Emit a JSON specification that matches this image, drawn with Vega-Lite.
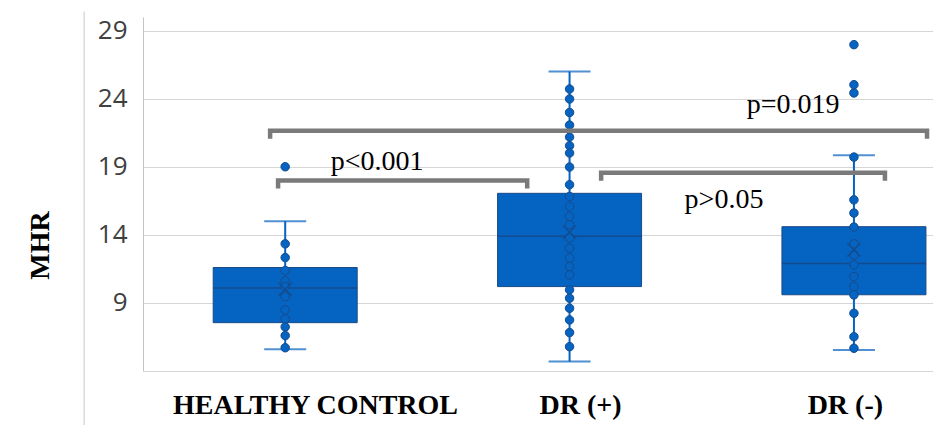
{
  "$schema": "https://vega.github.io/schema/vega-lite/v6.json",
  "width": 790,
  "height": 354,
  "autosize": {"type": "none"},
  "padding": {"left": 143, "top": 17, "right": 0, "bottom": 54},
  "background": "#ffffff",
  "config": {"view": {"stroke": null}},
  "datasets": {
    "boxes": [
      {"group": "HEALTHY CONTROL", "x": 1, "lo": 5.6, "q1": 7.55, "med": 10.1, "q3": 11.6, "hi": 15.0, "mean": 10.0},
      {"group": "DR (+)", "x": 2, "lo": 4.7, "q1": 10.2, "med": 13.9, "q3": 17.05, "hi": 26.0, "mean": 14.2},
      {"group": "DR (-)", "x": 3, "lo": 5.55, "q1": 9.6, "med": 11.9, "q3": 14.6, "hi": 19.85, "mean": 12.9}
    ],
    "points": [
      {"x": 1, "v": 19.0}, {"x": 1, "v": 13.34}, {"x": 1, "v": 12.33}, {"x": 1, "v": 11.38}, {"x": 1, "v": 10.62}, {"x": 1, "v": 10.2}, {"x": 1, "v": 9.46}, {"x": 1, "v": 8.49}, {"x": 1, "v": 7.82}, {"x": 1, "v": 7.24}, {"x": 1, "v": 6.6}, {"x": 1, "v": 5.71},
      {"x": 2, "v": 24.71}, {"x": 2, "v": 23.98}, {"x": 2, "v": 22.99}, {"x": 2, "v": 22.06}, {"x": 2, "v": 21.18}, {"x": 2, "v": 20.54}, {"x": 2, "v": 20.01}, {"x": 2, "v": 18.98}, {"x": 2, "v": 17.68}, {"x": 2, "v": 16.82}, {"x": 2, "v": 16.08}, {"x": 2, "v": 15.35}, {"x": 2, "v": 14.74}, {"x": 2, "v": 13.76}, {"x": 2, "v": 13.02}, {"x": 2, "v": 12.29}, {"x": 2, "v": 11.67}, {"x": 2, "v": 11.06}, {"x": 2, "v": 9.96}, {"x": 2, "v": 9.35}, {"x": 2, "v": 8.61}, {"x": 2, "v": 7.75}, {"x": 2, "v": 6.82}, {"x": 2, "v": 5.79},
      {"x": 3, "v": 27.97}, {"x": 3, "v": 25.03}, {"x": 3, "v": 24.42}, {"x": 3, "v": 19.71}, {"x": 3, "v": 16.57}, {"x": 3, "v": 15.6}, {"x": 3, "v": 14.57}, {"x": 3, "v": 13.34}, {"x": 3, "v": 12.53}, {"x": 3, "v": 11.79}, {"x": 3, "v": 10.93}, {"x": 3, "v": 10.2}, {"x": 3, "v": 9.59}, {"x": 3, "v": 8.24}, {"x": 3, "v": 6.52}, {"x": 3, "v": 5.67}
    ],
    "brackets": [
      {"b": "a", "s": 1, "x": 0.975, "y": 17.4}, {"b": "a", "s": 2, "x": 0.975, "y": 18.0}, {"b": "a", "s": 3, "x": 1.851, "y": 18.0}, {"b": "a", "s": 4, "x": 1.851, "y": 17.4},
      {"b": "b", "s": 1, "x": 2.111, "y": 17.97}, {"b": "b", "s": 2, "x": 2.111, "y": 18.56}, {"b": "b", "s": 3, "x": 3.109, "y": 18.56}, {"b": "b", "s": 4, "x": 3.109, "y": 17.97},
      {"b": "c", "s": 1, "x": 0.947, "y": 21.05}, {"b": "c", "s": 2, "x": 0.947, "y": 21.65}, {"b": "c", "s": 3, "x": 3.257, "y": 21.65}, {"b": "c", "s": 4, "x": 3.257, "y": 21.05}
    ],
    "labels": [
      {"t": "p<0.001", "x": 1.323, "y": 19.37},
      {"t": "p>0.05", "x": 2.543, "y": 16.57},
      {"t": "p=0.019", "x": 2.786, "y": 23.56}
    ],
    "frame": [{"x": 0.293, "y": 30.4, "y2": -0.3}]
  },
  "layer": [
    {
      "data": {"name": "boxes"},
      "mark": {"type": "rule", "color": "#0563C1", "strokeWidth": 2},
      "encoding": {
        "x": {
          "field": "x", "type": "quantitative",
          "scale": {"domain": [0.5, 3.278], "nice": false, "zero": false, "padding": 0},
          "axis": {
            "values": [1.105, 2.037, 2.968],
            "labelExpr": "datum.value < 1.5 ? 'HEALTHY CONTROL' : datum.value < 2.5 ? 'DR (+)' : 'DR (-)'",
            "grid": false, "ticks": false, "domain": false, "title": null,
            "labelFont": "Liberation Serif", "labelFontWeight": "bold", "labelFontSize": 28,
            "labelColor": "#000000", "labelPadding": 20, "labelFlush": false, "labelOverlap": false, "labelLimit": 0
          }
        },
        "y": {
          "field": "lo", "type": "quantitative",
          "scale": {"domain": [4, 30], "nice": false, "zero": false, "padding": 0},
          "axis": {
            "values": [4, 9, 14, 19, 24, 29],
            "labelExpr": "datum.value == 4 ? '' : datum.label",
            "grid": true, "gridColor": "#d6d6d6", "gridWidth": 1,
            "ticks": false, "domain": true, "domainColor": "#c4c4c4", "domainWidth": 1,
            "labelFont": "Open Sans", "labelFontSize": 26, "labelColor": "#404040", "labelPadding": 16,
            "title": "MHR", "titleFont": "Liberation Serif", "titleFontWeight": "bold", "titleFontSize": 28,
            "titleColor": "#000000", "titleAngle": -90, "titleX": -103, "titleY": 228, "titleBaseline": "middle", "titleAlign": "center"
          }
        },
        "y2": {"field": "hi"}
      }
    },
    {
      "data": {"name": "boxes"},
      "mark": {"type": "tick", "orient": "horizontal", "color": "#0563C1", "size": 42, "thickness": 2},
      "encoding": {
        "x": {"field": "x", "type": "quantitative", "scale": {"domain": [0.5, 3.278], "nice": false, "zero": false, "padding": 0}},
        "y": {"field": "lo", "type": "quantitative", "scale": {"domain": [4, 30], "nice": false, "zero": false, "padding": 0}}
      }
    },
    {
      "data": {"name": "boxes"},
      "mark": {"type": "tick", "orient": "horizontal", "color": "#0563C1", "size": 42, "thickness": 2},
      "encoding": {
        "x": {"field": "x", "type": "quantitative", "scale": {"domain": [0.5, 3.278], "nice": false, "zero": false, "padding": 0}},
        "y": {"field": "hi", "type": "quantitative", "scale": {"domain": [4, 30], "nice": false, "zero": false, "padding": 0}}
      }
    },
    {
      "data": {"name": "boxes"},
      "mark": {"type": "bar", "orient": "vertical", "size": 144, "fill": "#0563C1", "stroke": "#1b4a85", "strokeWidth": 1},
      "encoding": {
        "x": {"field": "x", "type": "quantitative", "scale": {"domain": [0.5, 3.278], "nice": false, "zero": false, "padding": 0}},
        "y": {"field": "q1", "type": "quantitative", "scale": {"domain": [4, 30], "nice": false, "zero": false, "padding": 0}},
        "y2": {"field": "q3"}
      }
    },
    {
      "data": {"name": "boxes"},
      "mark": {"type": "tick", "orient": "horizontal", "color": "#1b4278", "size": 144, "thickness": 1.5},
      "encoding": {
        "x": {"field": "x", "type": "quantitative", "scale": {"domain": [0.5, 3.278], "nice": false, "zero": false, "padding": 0}},
        "y": {"field": "med", "type": "quantitative", "scale": {"domain": [4, 30], "nice": false, "zero": false, "padding": 0}}
      }
    },
    {
      "data": {"name": "points"},
      "mark": {"type": "point", "filled": true, "size": 72, "fill": "#0563C1", "stroke": "#174c8c", "strokeWidth": 1, "opacity": 1},
      "encoding": {
        "x": {"field": "x", "type": "quantitative", "scale": {"domain": [0.5, 3.278], "nice": false, "zero": false, "padding": 0}},
        "y": {"field": "v", "type": "quantitative", "scale": {"domain": [4, 30], "nice": false, "zero": false, "padding": 0}}
      }
    },
    {
      "data": {"name": "boxes"},
      "mark": {"type": "point", "shape": "M -1 -1 L 1 1 M -1 1 L 1 -1", "filled": false, "size": 180, "stroke": "#1b4278", "strokeWidth": 1.2},
      "encoding": {
        "x": {"field": "x", "type": "quantitative", "scale": {"domain": [0.5, 3.278], "nice": false, "zero": false, "padding": 0}},
        "y": {"field": "mean", "type": "quantitative", "scale": {"domain": [4, 30], "nice": false, "zero": false, "padding": 0}}
      }
    },
    {
      "data": {"name": "brackets"},
      "mark": {"type": "line", "color": "#7a7a7a", "strokeWidth": 4.5, "strokeJoin": "miter", "strokeCap": "butt"},
      "encoding": {
        "x": {"field": "x", "type": "quantitative", "scale": {"domain": [0.5, 3.278], "nice": false, "zero": false, "padding": 0}},
        "y": {"field": "y", "type": "quantitative", "scale": {"domain": [4, 30], "nice": false, "zero": false, "padding": 0}},
        "detail": {"field": "b"},
        "order": {"field": "s"}
      }
    },
    {
      "data": {"name": "labels"},
      "mark": {"type": "text", "font": "Liberation Serif", "fontSize": 28, "color": "#000000", "align": "center", "baseline": "middle"},
      "encoding": {
        "x": {"field": "x", "type": "quantitative", "scale": {"domain": [0.5, 3.278], "nice": false, "zero": false, "padding": 0}},
        "y": {"field": "y", "type": "quantitative", "scale": {"domain": [4, 30], "nice": false, "zero": false, "padding": 0}},
        "text": {"field": "t"}
      }
    },
    {
      "data": {"name": "frame"},
      "mark": {"type": "rule", "color": "#c8c8c8", "strokeWidth": 1},
      "encoding": {
        "x": {"field": "x", "type": "quantitative", "scale": {"domain": [0.5, 3.278], "nice": false, "zero": false, "padding": 0}},
        "y": {"field": "y", "type": "quantitative", "scale": {"domain": [4, 30], "nice": false, "zero": false, "padding": 0}},
        "y2": {"field": "y2"}
      }
    }
  ]
}
